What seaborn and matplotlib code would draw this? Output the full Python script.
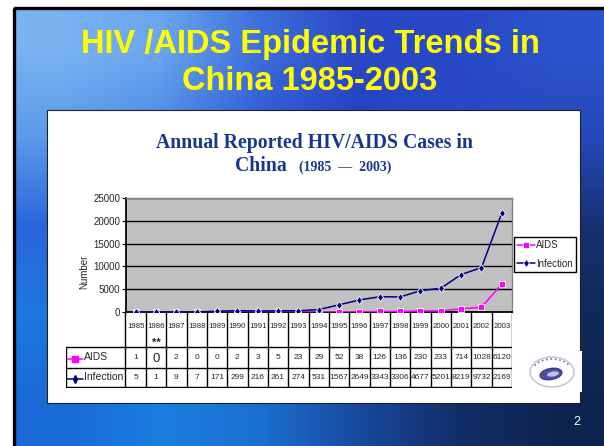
import numpy as np
import pandas as pd
import seaborn as sns
import matplotlib.pyplot as plt
from matplotlib.patches import Rectangle, Ellipse, Arc
from matplotlib.colors import to_rgb
from matplotlib.transforms import Bbox, TransformedBbox

# --- data ---
years = list(range(1985, 2004))
aids = [1, 0, 2, 0, 0, 2, 3, 5, 23, 29, 52, 38, 126, 136, 230, 233, 714, 1028, 6120]
infection = [5, 1, 9, 7, 171, 299, 216, 261, 274, 531, 1567, 2649, 3343, 3306,
             4677, 5201, 8219, 9732, 21690]
series = ["AIDS", "Infection"]
colors = {"AIDS": "#ff00ff", "Infection": "#000080"}
yticks = [0, 5000, 10000, 15000, 20000, 25000]
note_year = 1986  # the "**" footnote cell

W, H = 604, 446
sns.set_theme(style="white")
plt.rcParams["font.family"] = ["Liberation Sans", "DejaVu Sans"]

fig = plt.figure(figsize=(W / 100, H / 100), dpi=100, facecolor="white")


def px_axes(x0, y0, x1, y1, **kw):
    return fig.add_axes([x0 / W, 1 - y1 / H, (x1 - x0) / W, (y1 - y0) / H], **kw)


# --- slide background ---
bg = px_axes(0, 0, W, H)
bg.set_xlim(0, W)
bg.set_ylim(H, 0)
bg.axis("off")
grad = [
    ["#7ab2f2", "#6aa6ee", "#3d70dc", "#2a48c8", "#2848c8", "#2c54cc"],
    ["#5a9ae8", "#4a86e4", "#3058d4", "#2440c4", "#2848c8", "#2448b8"],
    ["#2a66dc", "#2a60d8", "#2850d0", "#2448c8", "#2040b8", "#163070"],
    ["#1e78e0", "#1a88e8", "#1a80e0", "#1a60c8", "#163e90", "#102a58"],
    ["#1a6ad8", "#1a7ee0", "#1a70d0", "#184aa0", "#122e68", "#0e2450"],
]
img = np.array([[to_rgb(c) for c in row] for row in grad])
bg.imshow(img, extent=(13, W, H, 7), interpolation="bilinear", aspect="auto", zorder=0)
bg.add_patch(Rectangle((13.5, 7.5), W, H, fill=False, ec="black", lw=2.4, zorder=1))

bg.text(310, 53, "HIV /AIDS Epidemic Trends in", color="#ffff00", fontsize=23.5,
        fontweight="bold", ha="center", va="baseline")
bg.text(310, 90, "China 1985-2003", color="#ffff00", fontsize=23.5,
        fontweight="bold", ha="center", va="baseline")

# white panel
bg.add_patch(Rectangle((47, 110), 533, 293, fc="white", ec="#202020", lw=0.8, zorder=2))
serif = ["Liberation Serif", "DejaVu Serif"]
bg.text(314, 148, "Annual Reported HIV/AIDS Cases in", color="#16378e", fontsize=14.2,
        fontweight="bold", family=serif, ha="center", va="baseline", zorder=3)
bg.text(287, 171, "China", color="#16378e", fontsize=14.2, fontweight="bold",
        family=serif, ha="right", va="baseline", zorder=3)
bg.text(299, 171, "(1985  \u2014  2003)", color="#16378e", fontsize=10,
        fontweight="bold", family=serif, ha="left", va="baseline", zorder=3)
bg.text(84, 272, "Number", fontsize=7, rotation=90, ha="center", va="center", zorder=3)

# logo
bg.add_patch(Rectangle((522, 351), 60, 41, fc="white", ec="none", zorder=3))
bg.add_patch(Ellipse((552, 372), 44, 30, fc="none", ec="#c8c8d8", lw=1.2, zorder=4))
bg.add_patch(Arc((552, 372), 40, 26, theta1=200, theta2=340, ls=":", ec="#7070a0", lw=1.2, zorder=4))
bg.add_patch(Ellipse((551, 374), 22, 11, angle=-10, fc="#5050a0", ec="#3a3a8a", zorder=4))
bg.add_patch(Ellipse((553, 374), 12, 5, angle=-10, fc="#c0c0e8", ec="none", zorder=5))

bg.text(577, 422, "2", color="white", fontsize=9, ha="center", va="center")

# --- line chart ---
ax = px_axes(125.5, 198, 512, 312)
df = pd.DataFrame({"year": years * 2,
                   "cases": aids + infection,
                   "series": ["AIDS"] * len(years) + ["Infection"] * len(years)})
sns.lineplot(data=df, x="year", y="cases", hue="series", style="series",
             palette=colors, markers={"AIDS": "s", "Infection": "d"}, dashes=False,
             markersize=4.5, markeredgewidth=0.6, linewidth=1.1, ax=ax, zorder=3)
ax.set_facecolor("#c0c0c0")
ax.set_xlim(years[0] - 0.5, years[-1] + 0.5)
ax.set_ylim(0, 25000)
ax.set_yticks(yticks)
ax.set_yticklabels([str(v) for v in yticks], fontsize=7)
ax.set_xticks([])
ax.set_xlabel("")
ax.set_ylabel("")
for v in yticks[1:]:
    ax.axhline(v, color="black", lw=1.0, zorder=1)
for side in ["top", "right"]:
    ax.spines[side].set_color("#808080")
    ax.spines[side].set_linewidth(1.0)
ax.spines["left"].set_color("black")
ax.spines["bottom"].set_color("black")
ax.spines["bottom"].set_linewidth(1.3)
ax.tick_params(axis="y", left=True, length=3, width=0.8, color="black", pad=1)

handles, labels = ax.get_legend_handles_labels()
leg = ax.legend(handles, labels, loc="center left", bbox_to_anchor=(514 / W, 1 - 254.5 / H),
                bbox_transform=fig.transFigure, fontsize=7, frameon=True, fancybox=False,
                edgecolor="black", framealpha=1, handlelength=1.8, handletextpad=0.1,
                borderpad=0.35, labelspacing=0.9, borderaxespad=0)
leg.get_frame().set_linewidth(1.0)

# --- data table under the chart ---
colw = (512 - 125.5) / len(years)
label_w = (125.5 - 66) / colw
tab = px_axes(66, 312, 512, 387.5)
x0 = years[0] - 0.5 - label_w
tab.set_xlim(x0, years[-1] + 0.5)
tab.set_ylim(75.5, 0)
tab.axis("off")
r_year, r_aids, r_inf, r_end = 0, 35, 56, 75
lw = 1.0
for k in range(len(years) + 1):
    tab.plot([years[0] - 0.5 + k] * 2, [r_year, r_end], color="black", lw=lw)
tab.plot([x0 + 0.02] * 2, [r_aids, r_end], color="black", lw=lw)
for r in [r_aids, r_inf]:
    tab.plot([x0, years[-1] + 0.5], [r, r], color="black", lw=lw)
tab.plot([x0, years[-1] + 0.5], [r_end - 0.3] * 2, color="black", lw=lw)

for i, yr in enumerate(years):
    tab.text(yr, 15, str(yr), fontsize=5.6, ha="center", va="center", color="#202020")
    if yr == note_year:
        tab.text(yr, 30.5, "**", fontsize=8, fontweight="bold", ha="center", va="center")
    for vals, r0, r1 in [(aids, r_aids, r_inf), (infection, r_inf, r_end)]:
        s = str(vals[i])
        big = vals is aids and yr == note_year
        if len(s) > 4:
            t = tab.text(yr - 0.46, (r0 + r1) / 2, s, fontsize=6, ha="left", va="center")
            cell = TransformedBbox(Bbox([[yr - 0.5, r0], [yr + 0.42, r1]]), tab.transData)
            t.set_clip_box(cell)
            t.set_clip_on(True)
        else:
            tab.text(yr, (r0 + r1) / 2 + (1 if big else 0), s, fontsize=9.5 if big else 6,
                     ha="center", va="center")

for name, r0, r1, m in [("AIDS", r_aids, r_inf, "s"), ("Infection", r_inf, r_end, "d")]:
    yc = (r0 + r1) / 2
    tab.plot([x0 + 0.05, x0 + 0.85], [yc + 1, yc + 1], color=colors[name], lw=1.1)
    tab.plot([x0 + 0.45], [yc + 1], marker=m, color=colors[name], ms=4)
    tab.text(x0 + 0.9, yc, name, fontsize=7.5, ha="left", va="center")

fig.savefig("out.png", dpi=100, facecolor=fig.get_facecolor())
